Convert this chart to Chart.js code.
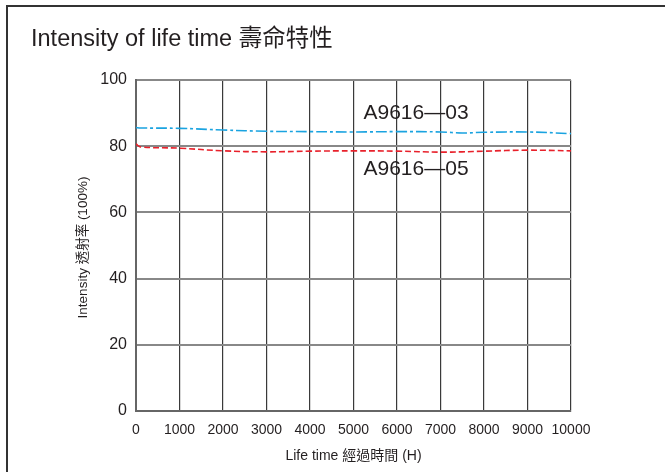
<!DOCTYPE html>
<html>
<head>
<meta charset="utf-8">
<style>
  html, body { margin: 0; padding: 0; background: #fff; }
  #wrap { position: relative; width: 665px; height: 472px; }
</style>
<script src="https://cdn.jsdelivr.net/npm/chart.js@4"></script>
</head>
<body>
<div id="wrap"><canvas id="lifeChart" width="665" height="472"></canvas></div>
<script>
  // values
  const hours = [0, 100, 1000, 2000, 3000, 4000, 5000, 6000, 7000, 7500, 8000, 9000, 10000];
  const a961603 = [85.6, 85.5, 85.4, 84.9, 84.5, 84.4, 84.3, 84.4, 84.3, 84.0, 84.2, 84.3, 83.8];
  const a961605 = [80.7, 79.8, 79.4, 78.6, 78.3, 78.5, 78.6, 78.5, 78.2, 78.3, 78.5, 78.8, 78.6];
  const xTicks = [0, 1000, 2000, 3000, 4000, 5000, 6000, 7000, 8000, 9000, 10000];
  const yTicks = [0, 20, 40, 60, 80, 100];
  const seriesNames = ["A9616\u201403", "A9616\u201405"];

  const FONT = "'Liberation Sans', Arial, 'Noto Sans CJK TC', sans-serif";
  const INK = "#231f20";

  function toPoints(vals) {
    return hours.map((h, i) => ({ x: h, y: vals[i] }));
  }

  // title, frame, axis titles and the two line names
  const decor = {
    id: "decor",
    afterDraw(chart) {
      const c = chart.ctx;
      const area = chart.chartArea;
      const xs = chart.scales.x, ys = chart.scales.y;
      c.save();
      c.strokeStyle = "#333";
      c.lineWidth = 2;
      c.beginPath();
      c.moveTo(7, 472);
      c.lineTo(7, 6);
      c.lineTo(665, 6);
      c.stroke();

      c.fillStyle = INK;
      c.textBaseline = "alphabetic";
      c.textAlign = "left";
      c.font = "23.5px " + FONT;
      c.fillText("Intensity of life time 壽命特性", 31, 46);

      c.textAlign = "center";
      c.font = "14px " + FONT;
      c.fillText("Life time 經過時間 (H)", (area.left + area.right) / 2, 460);

      c.save();
      c.translate(87, (area.top + area.bottom) / 2 + 2);
      c.rotate(-Math.PI / 2);
      c.font = "13.5px " + FONT;
      c.fillText("Intensity 透射率 (100%)", 0, 0);
      c.restore();

      c.font = "21px " + FONT;
      c.textAlign = "left";
      c.fillText(seriesNames[0], xs.getPixelForValue(5000) + 10, ys.getPixelForValue(88.3));
      c.fillText(seriesNames[1], xs.getPixelForValue(5000) + 10, ys.getPixelForValue(71.3));
      c.restore();
    }
  };

  new Chart(document.getElementById("lifeChart"), {
    type: "line",
    data: {
      datasets: [
        {
          label: seriesNames[0],
          data: toPoints(a961603),
          borderColor: "#1aa3e0",
          borderWidth: 1.6,
          borderDash: [11, 3, 3, 3],
          pointRadius: 0,
          tension: 0.4,
          fill: false,
        },
        {
          label: seriesNames[1],
          data: toPoints(a961605),
          borderColor: "#e8212b",
          borderWidth: 1.6,
          borderDash: [6, 3],
          pointRadius: 0,
          tension: 0.4,
          fill: false,
        },
      ],
    },
    options: {
      responsive: false,
      animation: false,
      layout: { padding: { left: 0, right: 94, top: 80, bottom: 0 } },
      plugins: { legend: { display: false }, tooltip: { enabled: false } },
      scales: {
        x: {
          type: "linear",
          min: 0,
          max: 10000,
          afterBuildTicks: (s) => { s.ticks = xTicks.map((v) => ({ value: v })); },
          afterFit: (s) => { s.height = 61; },
          ticks: {
            color: INK, font: { family: FONT, size: 14 }, padding: 11, maxRotation: 0, autoSkip: false,
            callback: (v) => String(v),
          },
          grid: { color: "#3a3a3a", lineWidth: 1.2, drawTicks: false },
          border: { color: "#666", width: 2 },
        },
        y: {
          min: 0,
          max: 100,
          afterBuildTicks: (s) => { s.ticks = yTicks.map((v) => ({ value: v })); },
          afterFit: (s) => { s.width = 136; },
          ticks: { color: INK, font: { family: FONT, size: 16 }, padding: 9 },
          grid: { color: "#888", lineWidth: 2, drawTicks: false },
          border: { color: "#666", width: 2 },
        },
      },
    },
    plugins: [decor],
  });
</script>
</body>
</html>
